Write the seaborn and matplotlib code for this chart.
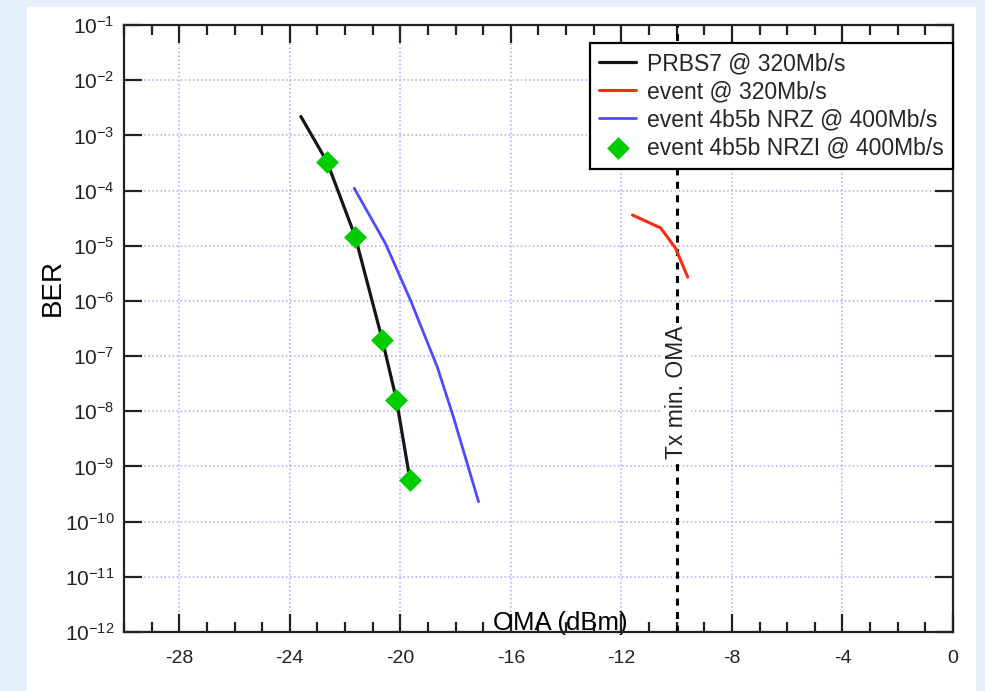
import numpy as np
import pandas as pd
import matplotlib
matplotlib.use("Agg")
import matplotlib.pyplot as plt
from matplotlib.patches import Rectangle
from matplotlib.ticker import MultipleLocator, FixedLocator, NullLocator, FuncFormatter
import seaborn as sns

# BER curves
prbs_x = [-23.6, -22.65, -21.63, -20.65, -20.14, -19.65]
prbs_y = [2.2e-3, 3.3e-4, 1.45e-5, 1.95e-7, 1.6e-8, 5.7e-10]

event_x = [-11.6, -10.58, -10.04, -9.6]
event_y = [3.6e-5, 2.1e-5, 9e-6, 2.7e-6]

nrz_x = [-21.67, -20.54, -19.64, -18.66, -18.08, -17.17]
nrz_y = [1.1e-4, 1.1e-5, 1.05e-6, 6.3e-8, 7.9e-9, 2.3e-10]

nrzi_x = [-22.65, -21.63, -20.65, -20.14, -19.65]
nrzi_y = [3.3e-4, 1.45e-5, 1.95e-7, 1.6e-8, 5.7e-10]

labels = ["PRBS7 @ 320Mb/s", "event @ 320Mb/s",
          "event 4b5b NRZ @ 400Mb/s", "event 4b5b NRZI @ 400Mb/s"]
ber_decades = list(range(-12, 0))   # 10^-12 .. 10^-1
tx_min_oma = -10

sns.set_theme(style="ticks")
plt.rcParams['font.family'] = ['Liberation Sans', 'DejaVu Sans']
plt.rcParams['mathtext.fontset'] = 'custom'
plt.rcParams['mathtext.rm'] = 'Liberation Sans'
plt.rcParams['mathtext.it'] = 'Liberation Sans:italic'
plt.rcParams['mathtext.bf'] = 'Liberation Sans:bold'
plt.rcParams['axes.unicode_minus'] = False

fig = plt.figure(figsize=(9.85, 6.91), dpi=100, facecolor='#e5f0fc')
# white panel behind the plot
fig.patches.append(Rectangle((27 / 985, 0), 948 / 985, 684 / 691,
                             transform=fig.transFigure, color='white', zorder=-10))
ax = fig.add_axes([0.1259, 0.0854, 0.8416, 0.8784])
ax.set_facecolor('white')

df_prbs = pd.DataFrame({'x': prbs_x, 'y': prbs_y})
df_event = pd.DataFrame({'x': event_x, 'y': event_y})
df_nrz = pd.DataFrame({'x': nrz_x, 'y': nrz_y})
df_nrzi = pd.DataFrame({'x': nrzi_x, 'y': nrzi_y})

sns.lineplot(data=df_prbs, x='x', y='y', ax=ax, color='#151515', lw=2.3,
             sort=False, estimator=None, label=labels[0], zorder=3)
sns.lineplot(data=df_event, x='x', y='y', ax=ax, color='#ff2a10', lw=2.2,
             sort=False, estimator=None, label=labels[1], zorder=3)
sns.lineplot(data=df_nrz, x='x', y='y', ax=ax, color='#4a4cff', lw=2.0,
             sort=False, estimator=None, label=labels[2], zorder=3)
sns.scatterplot(data=df_nrzi, x='x', y='y', ax=ax, color='#00cc00', marker='D',
                s=135, linewidth=0, label=labels[3], zorder=4)

# Tx min. OMA marker line
ax.axvline(tx_min_oma, color='black', lw=2.2, ls=(0, (2.3, 2.1)), zorder=2)
ax.text(tx_min_oma, 2.2e-8, "Tx min. OMA", rotation=90, ha='center', va='center',
        fontsize=16.5, color='#222222', zorder=5,
        bbox=dict(facecolor='white', edgecolor='none', pad=2))

ax.set_yscale('log')
ax.set_xlim(-30, 0)
ax.set_ylim(1e-12, 1e-1)

ax.xaxis.set_major_locator(MultipleLocator(4))
ax.xaxis.set_minor_locator(MultipleLocator(1))
ax.yaxis.set_major_locator(FixedLocator([10.0 ** k for k in ber_decades]))
ax.yaxis.set_minor_locator(NullLocator())
ax.yaxis.set_major_formatter(FuncFormatter(lambda v, p: r'$\mathregular{10^{%d}}$' % round(np.log10(v))))

ax.tick_params(which='both', direction='in', top=True, right=True, colors='#222222')
ax.tick_params(which='major', length=13, width=1.6)
ax.tick_params(which='minor', length=7, width=1.6)
ax.tick_params(axis='x', labelsize=14, pad=13)
ax.tick_params(axis='y', labelsize=15, pad=7)
for sp in ax.spines.values():
    sp.set_linewidth(1.6)
    sp.set_color('#222222')

ax.grid(True, which='major', color='#a8a8ff', ls=':', lw=1.1, zorder=1)

ax.set_xlabel("OMA (dBm)", fontsize=18.5, color='black')
ax.xaxis.label.set_va('center')
ax.xaxis.set_label_coords(0.526, 0.014)
ax.set_ylabel("BER", fontsize=20, color='black')
ax.yaxis.label.set_va('center')
ax.yaxis.set_label_coords(-0.0856, 0.567)

leg = ax.legend(loc='upper right', bbox_to_anchor=(1.0, 0.970), borderaxespad=0,
                fontsize=16.5, frameon=True, fancybox=False, framealpha=1,
                edgecolor='black', labelspacing=0.22, handlelength=1.6,
                handletextpad=0.48, borderpad=0.4, scatterpoints=1)
leg.get_frame().set_linewidth(1.6)
leg.set_zorder(6)

fig.savefig('out.png', dpi=100, facecolor=fig.get_facecolor())
